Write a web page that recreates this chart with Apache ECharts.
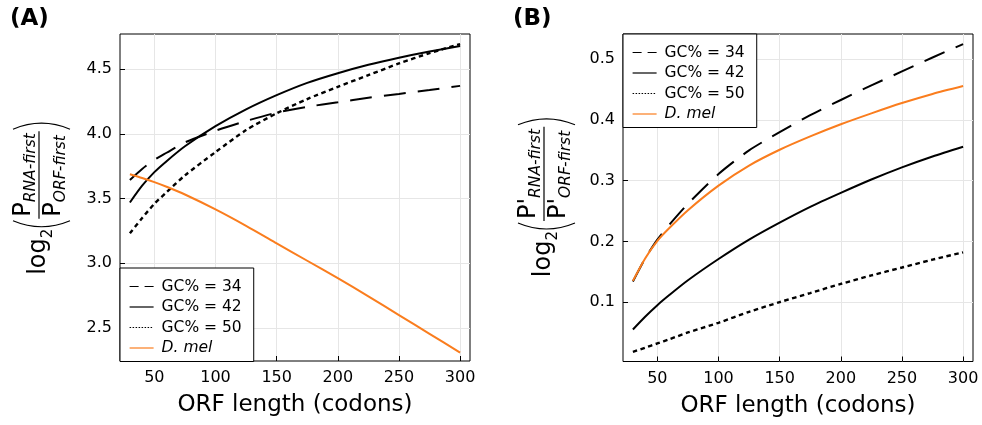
<!DOCTYPE html>
<html>
<head>
<meta charset="utf-8">
<script src="https://cdn.jsdelivr.net/npm/echarts@6/dist/echarts.min.js"></script>
<style>
html,body{margin:0;padding:0;background:#fff;}
#chart{width:982px;height:425px;}
</style>
</head>
<body>
<div id="chart"></div>
<script>
// ---- data ----
const xs = [30, 40, 50, 60, 75, 100, 125, 150, 175, 200, 225, 250, 275, 300];

// Panel A: log2(P_RNA-first / P_ORF-first)
const aGC34 = [3.645, 3.73, 3.80, 3.855, 3.935, 4.025, 4.10, 4.165, 4.21, 4.245, 4.28, 4.31, 4.34, 4.372];
const aGC42 = [3.47, 3.60, 3.705, 3.79, 3.905, 4.06, 4.19, 4.30, 4.395, 4.47, 4.535, 4.59, 4.638, 4.68];
const aGC50 = [3.233, 3.35, 3.46, 3.55, 3.68, 3.86, 4.03, 4.16, 4.27, 4.365, 4.455, 4.545, 4.625, 4.695];
const aDmel = [3.689, 3.660, 3.628, 3.592, 3.532, 3.417, 3.29, 3.155, 3.02, 2.885, 2.745, 2.60, 2.455, 2.31];

// Panel B: log2(P'_RNA-first / P'_ORF-first)
const bGC34 = [0.134, 0.172, 0.203, 0.228, 0.262, 0.311, 0.350, 0.380, 0.408, 0.433, 0.457, 0.480, 0.503, 0.525];
const bGC42 = [0.055, 0.076, 0.095, 0.112, 0.136, 0.171, 0.203, 0.231, 0.257, 0.280, 0.302, 0.322, 0.340, 0.356];
const bGC50 = [0.018, 0.025, 0.032, 0.039, 0.050, 0.066, 0.084, 0.100, 0.115, 0.130, 0.144, 0.157, 0.170, 0.182];
const bDmel = [0.135, 0.172, 0.201, 0.2225, 0.2515, 0.292, 0.325, 0.351, 0.373, 0.393, 0.411, 0.428, 0.443, 0.456];

const xTicks = [50, 100, 150, 200, 250, 300];
const aYTicks = [2.5, 3.0, 3.5, 4.0, 4.5];
const bYTicks = [0.1, 0.2, 0.3, 0.4, 0.5];
const seriesNames = ['GC% = 34', 'GC% = 42', 'GC% = 50', 'D. mel'];

// ---- styling ----
const FF = "'DejaVu Sans', sans-serif";
const ORANGE = '#fa7d1e';
const styles = [
  {color: '#000', width: 2, type: [22, 12]},
  {color: '#000', width: 2, type: 'solid'},
  {color: '#000', width: 2.4, type: [4.5, 3.5]},
  {color: ORANGE, width: 2, type: 'solid'}
];

const chart = echarts.init(document.getElementById('chart'), null, {renderer: 'canvas'});

function pairs(arr) { return xs.map((x, i) => [x, arr[i]]); }

function mkSeries(arrs, idx) {
  return arrs.map((arr, i) => ({
    name: seriesNames[i], type: 'line', xAxisIndex: idx, yAxisIndex: idx,
    data: pairs(arr), symbol: 'none', smooth: 0.25, silent: true,
    lineStyle: {color: styles[i].color, width: styles[i].width, type: styles[i].type, cap: 'butt'},
    itemStyle: {color: styles[i].color}
  }));
}

function xAxisCfg(idx) {
  return {
    type: 'value', gridIndex: idx, min: 21.9, max: 308.1,
    name: 'ORF length (codons)', nameLocation: 'middle', nameGap: 33,
    nameTextStyle: {fontFamily: FF, fontSize: 23, color: '#000'},
    axisLine: {show: false, onZero: false},
    axisTick: {show: true, inside: true, length: 5, lineStyle: {color: '#000', width: 1}, customValues: xTicks},
    axisLabel: {fontFamily: FF, fontSize: 16, color: '#000', margin: 9, customValues: xTicks},
    splitLine: {show: true, lineStyle: {color: '#e6e6e6', width: 1}}
  };
}
function yAxisCfg(idx, min, max, ticks) {
  return {
    type: 'value', gridIndex: idx, min: min, max: max,
    axisLine: {show: false, onZero: false},
    axisTick: {show: true, inside: true, length: 5, lineStyle: {color: '#000', width: 1}, customValues: ticks},
    axisLabel: {fontFamily: FF, fontSize: 16, color: '#000', margin: 8, customValues: ticks,
      formatter: v => v.toFixed(1)},
    splitLine: {show: true, lineStyle: {color: '#e6e6e6', width: 1}}
  };
}

const legendItems = [
  {name: seriesNames[0], lineStyle: {width: 1.2, type: [9, 6]}},
  {name: seriesNames[1], lineStyle: {width: 1.2}},
  {name: seriesNames[2], lineStyle: {width: 1.2, type: [1.5, 1.5]}},
  {name: seriesNames[3], lineStyle: {width: 1.2}, textStyle: {fontStyle: 'italic'}}
];
function legendCfg(left, top) {
  return {
    left: left, top: top, orient: 'vertical', selectedMode: false,
    backgroundColor: '#fff', borderColor: '#000', borderWidth: 1,
    padding: [10, 12, 5, 9], itemGap: 3.5, itemWidth: 24, itemHeight: 12,
    itemStyle: {opacity: 0},
    textStyle: {fontFamily: FF, fontSize: 15.5, color: '#000', lineHeight: 17, padding: [0, 0, 0, 3]},
    data: legendItems
  };
}

// ---- y-axis math label: log2( P_RNA-first / P_ORF-first ) ----
const mctx = document.createElement('canvas').getContext('2d');
function mw(font, s) { mctx.font = font; return mctx.measureText(s).width; }

function yLabel(gx, gy, prime) {
  const f1 = 24, f2 = 15, f3 = 15.5;
  const pTxt = prime ? "P'" : 'P';
  const wLog = mw(f1 + 'px ' + FF, 'log');
  const w2 = mw(f2 + 'px ' + FF, '2');
  const wP = mw(f1 + 'px ' + FF, pTxt);
  const wN = mw('italic ' + f3 + 'px ' + FF, 'RNA-first');
  const wD = mw('italic ' + f3 + 'px ' + FF, 'ORF-first');
  const fracW = wP + Math.max(wN, wD) + 4;
  const parW = 6, gap = 2;
  const total = wLog + w2 + gap + parW + gap + fracW + gap + parW;
  const ch = [];
  const txt = (x, base, f, s, italic) => ch.push({
    type: 'text', silent: true,
    style: {text: s, x: x, y: base - 0.33 * f, fontSize: f, fontFamily: FF,
      fontStyle: italic ? 'italic' : 'normal', fill: '#000', align: 'left', verticalAlign: 'middle'}
  });
  const paren = (x, left) => ch.push({
    type: 'bezierCurve', silent: true,
    shape: left ? {x1: x + parW, y1: -26, x2: x + parW, y2: 31, cpx1: x - parW, cpy1: 2.5}
                : {x1: x, y1: -26, x2: x, y2: 31, cpx1: x + 2 * parW, cpy1: 2.5},
    style: {stroke: '#000', lineWidth: 1.1, fill: null}
  });
  let x = -total / 2;
  txt(x, 8, f1, 'log'); x += wLog;
  txt(x, 14, f2, '2'); x += w2 + gap;
  paren(x, true); x += parW + gap;
  const fx = x;
  txt(fx + 2, -7, f1, pTxt); txt(fx + 2 + wP, -3, f3, 'RNA-first', true);
  txt(fx + 2, 23, f1, pTxt); txt(fx + 2 + wP, 27, f3, 'ORF-first', true);
  ch.push({type: 'line', silent: true, shape: {x1: fx, y1: 0, x2: fx + fracW, y2: 0},
    style: {stroke: '#000', lineWidth: 1.2}});
  x += fracW + gap;
  paren(x, false);
  return {type: 'group', x: gx, y: gy, rotation: Math.PI / 2, children: ch};
}

const option = {
  animation: false,
  backgroundColor: '#fff',
  grid: [
    {left: 120, top: 34, width: 350, height: 327, show: true, borderColor: '#000', borderWidth: 1, backgroundColor: 'transparent'},
    {left: 623, top: 34, width: 350, height: 327.5, show: true, borderColor: '#000', borderWidth: 1, backgroundColor: 'transparent'}
  ],
  xAxis: [xAxisCfg(0), xAxisCfg(1)],
  yAxis: [yAxisCfg(0, 2.245, 4.773, aYTicks), yAxisCfg(1, 0.0022, 0.5417, bYTicks)],
  legend: [legendCfg(120, 268), legendCfg(623, 34)],
  series: mkSeries([aGC34, aGC42, aGC50, aDmel], 0).concat(mkSeries([bGC34, bGC42, bGC50, bDmel], 1)),
  graphic: [
    {type: 'text', silent: true, style: {text: '(A)', x: 10, y: 19, fontSize: 23, fontWeight: 'bold', fontFamily: FF, fill: '#000', align: 'left', verticalAlign: 'middle'}},
    {type: 'text', silent: true, style: {text: '(B)', x: 513, y: 19, fontSize: 23, fontWeight: 'bold', fontFamily: FF, fill: '#000', align: 'left', verticalAlign: 'middle'}},
    yLabel(39, 199, false),
    yLabel(544, 198, true)
  ]
};
chart.setOption(option);
</script>
</body>
</html>
